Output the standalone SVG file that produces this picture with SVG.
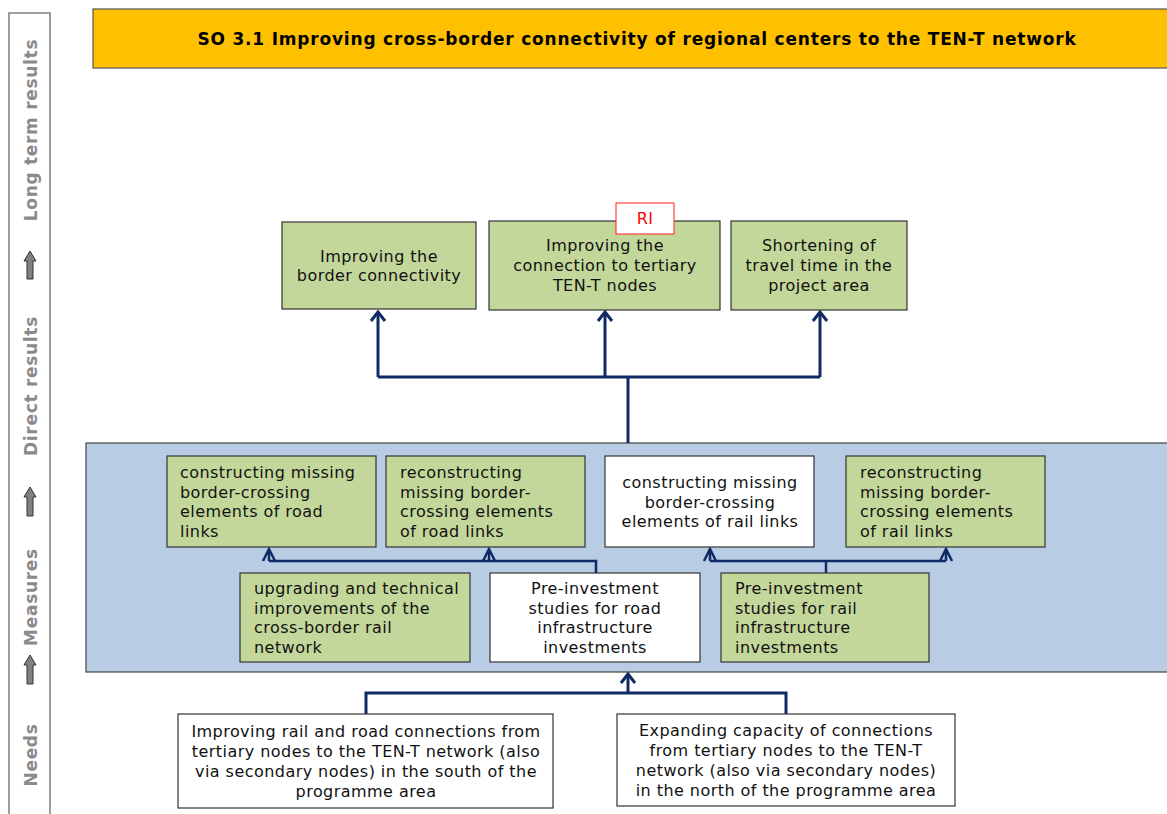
<svg xmlns="http://www.w3.org/2000/svg" width="1167" height="814" viewBox="0 0 1167 814">
  <style>
    text { font-family: "DejaVu Sans", Verdana, sans-serif; font-size: 16px; letter-spacing: 0.45px; fill: #111; }
    .c { text-anchor: middle; }
    .side { font-weight: bold; font-size: 17px; letter-spacing: 0.7px; fill: #8a8a8a; text-anchor: middle; dominant-baseline: central; }
    .title { font-weight: bold; font-size: 17px; letter-spacing: 0.8px; text-anchor: middle; fill: #000; }
    .green { fill: #C4D79B; stroke: #333; stroke-width: 1.2; }
    .white { fill: #fff; stroke: #333; stroke-width: 1.2; }
    .conn { fill: none; stroke: #0F2A64; stroke-width: 3; }
    .conn-s { fill: none; stroke: #0F2A64; stroke-width: 2.5; }
    .blk { fill: #808080; stroke: #333; stroke-width: 1; }
  </style>
  <defs>
    <marker id="open" markerUnits="userSpaceOnUse" orient="auto" refX="0" refY="0" overflow="visible" markerWidth="20" markerHeight="20">
      <path d="M-9,-7 L0,0 L-9,7" fill="none" stroke="#0F2A64" stroke-width="3"/>
    </marker>
    <marker id="flat" markerUnits="userSpaceOnUse" orient="auto" refX="0" refY="0" overflow="visible" markerWidth="20" markerHeight="20">
      <path d="M-12,-6 L0,0 L-12,6" fill="none" stroke="#0F2A64" stroke-width="2.5"/>
    </marker>
  </defs>

  <rect width="1167" height="814" fill="#fff"/>

  <!-- side bar with level labels -->
  <g id="sidebar">
    <path d="M9,814 L9,13 L50,13 L50,814" fill="none" stroke="#7f7f7f" stroke-width="1.5"/>
    <text class="side" transform="translate(31,130) rotate(-90)">Long term results</text>
    <text class="side" transform="translate(31,386) rotate(-90)">Direct results</text>
    <text class="side" transform="translate(31,597) rotate(-90)">Measures</text>
    <text class="side" transform="translate(31,755) rotate(-90)">Needs</text>
    <path class="blk" d="M30,251 L36,261 L33,261 L33,279 L27,279 L27,261 L24,261 Z"/>
    <path class="blk" d="M30,487 L36,497 L33,497 L33,516 L27,516 L27,497 L24,497 Z"/>
    <path class="blk" d="M30,655 L36,665 L33,665 L33,684 L27,684 L27,665 L24,665 Z"/>
  </g>

  <!-- header -->
  <g id="header">
    <rect x="93" y="9" width="1080" height="59" fill="#FFC000" stroke="#555" stroke-width="1.2"/>
    <text class="title" x="637" y="45">SO 3.1 Improving cross-border connectivity of regional centers to the TEN-T network</text>
  </g>

  <!-- measures band -->
  <g id="measures-band">
    <rect x="86" y="443" width="1090" height="229" fill="#B8CCE4" stroke="#444" stroke-width="1.2"/>
  </g>

  <!-- connectors -->
  <g id="connectors">
    <path class="conn" d="M378,377 L820,377"/>
    <path class="conn" d="M628,377 L628,443"/>
    <path class="conn" d="M378,377 L378,312" marker-end="url(#open)"/>
    <path class="conn" d="M605,377 L605,312" marker-end="url(#open)"/>
    <path class="conn" d="M820,377 L820,312" marker-end="url(#open)"/>

    <path class="conn-s" d="M596,573 L596,561 L269,561"/>
    <path class="conn-s" d="M269,561 L269,549" marker-end="url(#flat)"/>
    <path class="conn-s" d="M489,561 L489,549" marker-end="url(#flat)"/>

    <path class="conn-s" d="M826,573 L826,561"/>
    <path class="conn-s" d="M710,561 L946,561"/>
    <path class="conn-s" d="M710,561 L710,549" marker-end="url(#flat)"/>
    <path class="conn-s" d="M946,561 L946,549" marker-end="url(#flat)"/>

    <path class="conn" d="M366,714 L366,693 L786,693 L786,714"/>
    <path class="conn" d="M628,693 L628,674" marker-end="url(#open)"/>
  </g>

  <!-- long term / direct results -->
  <g id="r-border">
    <rect class="green" x="282" y="222" width="194" height="87"/>
    <text class="c" x="379" y="262">Improving the</text>
    <text class="c" x="379" y="281">border connectivity</text>
  </g>
  <g id="r-tent">
    <rect class="green" x="489" y="221" width="231" height="89"/>
    <text class="c" x="605" y="251">Improving the</text>
    <text class="c" x="605" y="271">connection to tertiary</text>
    <text class="c" x="605" y="291">TEN-T nodes</text>
  </g>
  <g id="r-ri">
    <rect x="616" y="203" width="58" height="31" fill="#fff" stroke="#FF2020" stroke-width="1"/>
    <text class="c" x="645" y="224" style="fill:#FF0000">RI</text>
  </g>
  <g id="r-time">
    <rect class="green" x="731" y="221" width="176" height="89"/>
    <text class="c" x="819" y="251">Shortening of</text>
    <text class="c" x="819" y="271">travel time in the</text>
    <text class="c" x="819" y="291">project area</text>
  </g>

  <!-- measures -->
  <g id="m-road-new">
    <rect class="green" x="167" y="456" width="209" height="91"/>
    <text x="180" y="478">constructing missing</text>
    <text x="180" y="498">border-crossing</text>
    <text x="180" y="517">elements of road</text>
    <text x="180" y="537">links</text>
  </g>
  <g id="m-road-re">
    <rect class="green" x="386" y="456" width="199" height="91"/>
    <text x="400" y="478">reconstructing</text>
    <text x="400" y="498">missing border-</text>
    <text x="400" y="517">crossing elements</text>
    <text x="400" y="537">of road links</text>
  </g>
  <g id="m-rail-new">
    <rect class="white" x="605" y="456" width="209" height="91"/>
    <text class="c" x="710" y="488">constructing missing</text>
    <text class="c" x="710" y="508">border-crossing</text>
    <text class="c" x="710" y="527">elements of rail links</text>
  </g>
  <g id="m-rail-re">
    <rect class="green" x="846" y="456" width="199" height="91"/>
    <text x="860" y="478">reconstructing</text>
    <text x="860" y="498">missing border-</text>
    <text x="860" y="517">crossing elements</text>
    <text x="860" y="537">of rail links</text>
  </g>
  <g id="m-rail-upgrade">
    <rect class="green" x="240" y="573" width="230" height="89"/>
    <text x="254" y="594">upgrading and technical</text>
    <text x="254" y="614">improvements of the</text>
    <text x="254" y="633">cross-border rail</text>
    <text x="254" y="653">network</text>
  </g>
  <g id="m-road-study">
    <rect class="white" x="490" y="573" width="210" height="89"/>
    <text class="c" x="595" y="594">Pre-investment</text>
    <text class="c" x="595" y="614">studies for road</text>
    <text class="c" x="595" y="633">infrastructure</text>
    <text class="c" x="595" y="653">investments</text>
  </g>
  <g id="m-rail-study">
    <rect class="green" x="721" y="573" width="208" height="89"/>
    <text x="735" y="594">Pre-investment</text>
    <text x="735" y="614">studies for rail</text>
    <text x="735" y="633">infrastructure</text>
    <text x="735" y="653">investments</text>
  </g>

  <!-- needs -->
  <g id="n-south">
    <rect class="white" x="178" y="714" width="375" height="94"/>
    <text class="c" x="366" y="737">Improving rail and road connections from</text>
    <text class="c" x="366" y="757">tertiary nodes to the TEN-T network (also</text>
    <text class="c" x="366" y="777">via secondary nodes) in the south of the</text>
    <text class="c" x="366" y="797">programme area</text>
  </g>
  <g id="n-north">
    <rect class="white" x="617" y="714" width="338" height="92"/>
    <text class="c" x="786" y="736">Expanding capacity of connections</text>
    <text class="c" x="786" y="756">from tertiary nodes to the TEN-T</text>
    <text class="c" x="786" y="776">network (also via secondary nodes)</text>
    <text class="c" x="786" y="796">in the north of the programme area</text>
  </g>
</svg>
